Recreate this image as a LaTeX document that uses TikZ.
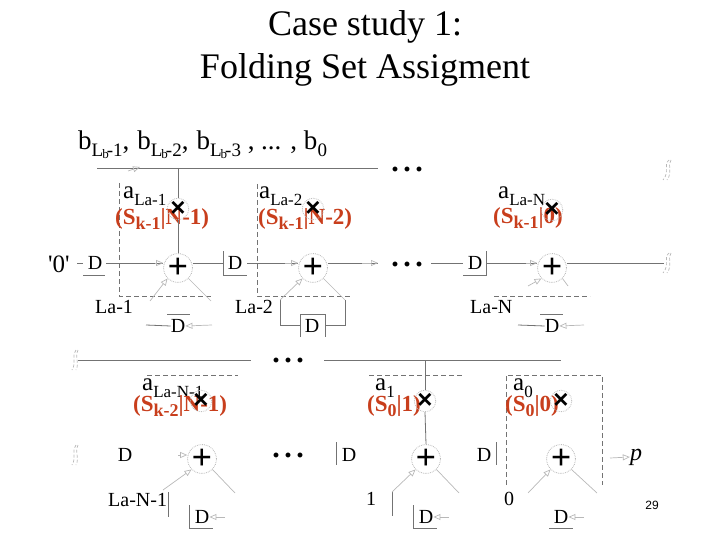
\documentclass[tikz,border=0pt]{standalone}
\usepackage{fontspec}
\setmainfont{Liberation Serif}
\usetikzlibrary{arrows.meta}
\definecolor{wire}{gray}{0.45}
\definecolor{faint}{gray}{0.72}
\definecolor{redlab}{RGB}{200,62,28}
\newcommand\fs[1]{\fontsize{#1}{#1}\selectfont}
\tikzset{
  ttl/.style={inner sep=0,font=\fs{36}},
  wireline/.style={draw=wire,line width=0.8pt},
  dashbox/.style={draw=wire,line width=0.7pt,dash pattern=on 5pt off 3pt},
  fline/.style={draw=faint,line width=0.7pt},
  openarrow/.style={draw=faint,line width=0.7pt,-{Triangle[open,length=7pt,width=6pt]}},
  dnode/.style={inner sep=0,font=\fs{20}},
  bar/.style={draw=wire,line width=0.8pt},
  opnode/.style={circle,draw=faint,densely dotted,line width=0.8pt,inner sep=0,minimum size=21pt},
  mulmark/.style={opnode,font=\fontspec{Liberation Sans}\bfseries\fs{26}},
  addmark/.style={opnode,font=\bfseries\fs{36}},
  lab/.style={inner sep=0,anchor=base west,font=\fs{20}},
  alab/.style={inner sep=0,anchor=base west,font=\fs{25}},
  redtxt/.style={inner sep=0,anchor=base west,text=redlab,font=\bfseries\fs{23}},
  dotsn/.style={inner sep=0,font=\bfseries\fs{30}},
  squig/.style={draw=faint,line width=0.7pt,densely dashed}
}
\newcommand\tridots{.\kern4.5pt.\kern4.5pt.}
\newcommand\aS[1]{\raisebox{-7pt}{\fs{17}#1}}
\newcommand\rS[1]{\raisebox{-5pt}{\fs{18}#1}}
\newcommand\bS[1]{\raisebox{-7pt}{\fs{19}#1}}
\newcommand\lb{L\kern-1pt\raisebox{-2pt}{\fs{13}b}\kern-2pt}
\begin{document}
\begin{tikzpicture}[x=1pt,y=-1pt]
\useasboundingbox (0,0) rectangle (720,540);
\node[ttl] (t1) at (365,27) {Case study 1:};
\node[ttl] (t2) at (365,70) {Folding Set Assigment};
\node[inner sep=0,anchor=base west,font=\fs{27}] (blist) at (78,150) {b\bS{\lb-1},\kern8pt b\bS{\lb-2},\kern8pt b\bS{\lb-3} , ... , b\bS{0}};

\coordinate (w1l) at (97,168); \coordinate (w1r) at (378,168);
\coordinate (w1a) at (128,171); \coordinate (w1b) at (140,167);
\coordinate (w2r) at (378,263); \coordinate (w2e) at (664,263);
\coordinate (w3l) at (78,360); \coordinate (w3m) at (251,360); \coordinate (w3n) at (324,360); \coordinate (w3r) at (561,360);
\node[dotsn] (d1) at (407,169) {\tridots};
\node[dotsn] (d2) at (407,264) {\tridots};
\node[dotsn] (d3) at (288,360) {\tridots};
\node[dotsn] (d4) at (288,455) {\tridots};

\draw[dashbox] (119,183) -- (119,296) -- (213,296);
\draw[dashbox] (257,184) -- (257,296) -- (352,296);
\draw[dashbox] (494,296) -- (590,296);
\draw[dashbox] (147,375) -- (238,375);
\draw[dashbox] (369,375) -- (464,375);
\draw[dashbox] (506,485) -- (506,375) -- (602,375) -- (602,485);

\node[alab] (a1) at (123,199) {a\aS{La-1}};
\node[alab] (a2) at (259,199) {a\aS{La-2}};
\node[alab] (a3) at (498,199) {a\aS{La-N}};
\node[alab] (a4) at (142,390) {a\aS{La-N-1}};
\node[alab] (a5) at (375,390) {a\aS{1}};
\node[alab] (a6) at (513,390) {a\aS{0}};

\node[redtxt] (r1) at (115,225) {(S\rS{k-1}|N-1)};
\node[redtxt] (r2) at (258,225) {(S\rS{k-1}|N-2)};
\node[redtxt] (r3) at (493,224) {(S\rS{k-1}|0)};
\node[redtxt] (r4) at (133,411) {(S\rS{k-2}|N-1)};
\node[redtxt] (r5) at (367,411) {(S\rS{0}|1)};
\node[redtxt] (r6) at (505,411) {(S\rS{0}|0)};

\node[mulmark] (m1) at (178,209) {×};
\node[mulmark] (m2) at (313,209) {×};
\node[mulmark] (m3) at (552,210) {×};
\node[mulmark] (m4) at (201,401) {×};
\node[mulmark] (m5) at (425,401) {×};
\node[mulmark] (m6) at (561,401) {×};
\node[addmark] (p1) at (178,268) {+};
\node[addmark] (p2) at (313,268) {+};
\node[addmark] (p3) at (552,268) {+};
\node[addmark] (p4) at (202,459) {+};
\node[addmark] (p5) at (426,459) {+};
\node[addmark] (p6) at (561,459) {+};

\node[dnode] (D0) at (95,263) {D};
\node[dnode] (D1) at (235,263) {D};
\node[dnode] (D2) at (475,263) {D};
\node[dnode] (D3) at (178,326) {D};
\node[dnode] (D4) at (312,326) {D};
\node[dnode] (D5) at (552,326) {D};
\node[dnode] (D6) at (125,455) {D};
\node[dnode] (D7) at (349,455) {D};
\node[dnode] (D8) at (484,455) {D};
\node[dnode] (D9) at (202,517) {D};
\node[dnode] (D10) at (426,517) {D};
\node[dnode] (D11) at (561,517) {D};

\node[lab,font=\fontspec{Liberation Serif}\fs{25}] (q) at (48,272) {'0'};
\node[lab] (l1) at (95,313) {La-1};
\node[lab] (l2) at (235,313) {La-2};
\node[lab] (l3) at (470,313) {La-N};
\node[lab] (l4) at (108,506) {La-N-1};
\node[lab] (l5) at (366,505) {1};
\node[lab] (l6) at (504,505) {0};
\node[inner sep=0,font=\itshape\fs{24}] (pp) at (636,457) {p};
\node[inner sep=0,font=\fontspec{Liberation Sans}\fs{12}] (pg) at (652,505) {29};

\draw[wireline] (w1l) -- (w1r);
\draw[openarrow] (w1a) -- (w1b);
\draw[wireline] (178,168) -- (m1.north);
\draw[wireline] (m1.south) -- (p1.north);
\draw[wireline] (w3l) -- (w3m);
\draw[wireline] (w3n) -- (w3r);
\draw[wireline] (425,360) -- (m5.north);
\draw[wireline] (m5.south) -- (p5.north);
\draw[wireline] (77,263) -- (83,263);
\draw[wireline] (D0.east) ++(4,0) -- (p1.west |- D0);
\draw[wireline] (p1.east |- D1) -- (223,263);
\draw[wireline] (247,263) -- (p2.west |- D1);
\draw[wireline] (p2.east |- D1) -- (w2r);
\draw[wireline] (431,263) -- (463,263);
\draw[wireline] (486,263) -- (p3.west |- D2);
\draw[wireline] (p3.east |- D2) -- (w2e);
\draw[openarrow] (362,263) -- (w2r);
\draw[openarrow] (526,263) -- (p3.west |- D2);
\draw[openarrow] (155,263) -- (p1.west |- D0);
\draw[openarrow] (285,263) -- (p2.west |- D1);

\draw[bar] (83,275) -- (105,275);
\draw[bar] (223,251) -- (223,275) -- (247,275);
\draw[bar] (486,251) -- (486,275) -- (463,275);
\draw[bar] (167,314) -- (190,314);
\draw[bar] (300,337) -- (300,314) -- (325,314) -- (325,337);
\draw[bar] (540,314) -- (563,314);
\draw[bar] (189,505) -- (189,528) -- (213,528);
\draw[bar] (413,505) -- (413,528) -- (437,528);
\draw[bar] (549,528) -- (573,528);
\draw[bar] (336,442) -- (336,465);
\draw[bar] (496,442) -- (496,465);
\draw[bar] (168,492) -- (168,517);
\draw[bar] (392,492) -- (392,516);
\draw[bar] (146,325) -- (D3.west);
\draw[bar] (518,325) -- (D5.west);
\draw[bar] (280,300) -- (280,325) -- (300,325);
\draw[bar] (325,325) -- (345,325) -- (345,300);

\draw[openarrow] (212,325) -- (D3.east);
\draw[openarrow] (584,325) -- (D5.east);
\draw[openarrow] (150,301) -- (p1.225);
\draw[fline] (p1.-45) -- (211,301);
\draw[openarrow] (280,300) -- (p2.225);
\draw[fline] (p2.-45) -- (345,300);
\draw[openarrow] (528,286) -- (p3.225);
\draw[fline] (p3.-45) -- (568,286);
\draw[openarrow] (163,490) -- (p4.225);
\draw[fline] (p4.-45) -- (235,493);
\draw[openarrow] (392,492) -- (p5.225);
\draw[fline] (p5.-45) -- (459,493);
\draw[openarrow] (528,493) -- (p6.225);
\draw[fline] (p6.-45) -- (597,493);
\draw[openarrow] (178,455) -- (p4.west |- D6);
\draw[openarrow] (225,517) -- (D9.east);
\draw[openarrow] (449,517) -- (D10.east);
\draw[openarrow] (584,517) -- (D11.east);
\draw[openarrow] (610,458) -- (pp.west);

\draw[squig] (669,160) .. controls (663,165) and (670,172) .. (663,180);
\draw[squig] (671,160) .. controls (667,165) and (673,172) .. (667,180);
\draw[squig] (669,253) .. controls (663,258) and (670,265) .. (663,273);
\draw[squig] (671,253) .. controls (667,258) and (673,265) .. (667,273);
\draw[squig] (76,350) .. controls (71,355) and (77,362) .. (72,370);
\draw[squig] (78,350) .. controls (74,355) and (80,362) .. (76,370);
\draw[squig] (76,445) .. controls (71,450) and (77,457) .. (72,465);
\draw[squig] (78,445) .. controls (74,450) and (80,457) .. (76,465);
\end{tikzpicture}
\end{document}
